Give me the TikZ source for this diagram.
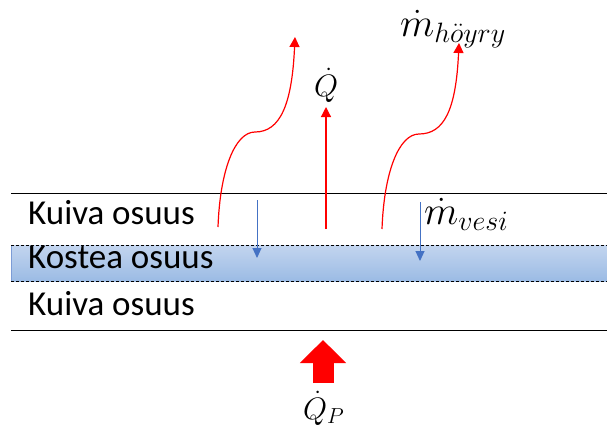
\RequirePackage{fix-cm}
\documentclass[tikz,border=0pt]{standalone}
\usepackage{fontspec}
\setsansfont{Carlito}
\usepackage{tikz}
\usetikzlibrary{positioning, arrows.meta}
\definecolor{heatRed}  {HTML}{FF0000}
\definecolor{waterBlue}{HTML}{4472C4}
\definecolor{bandTop}  {HTML}{C3D5EF}
\definecolor{bandBot}  {HTML}{9BBBE4}

\begin{document}
\begin{tikzpicture}[x=1pt, y=-1pt,
    layer/.style={font=\sffamily\fontsize{35}{40}\selectfont, anchor=base west, inner sep=0pt},
    sym/.style={font=\fontsize{40}{48}\selectfont, anchor=base west, inner sep=0pt},
    heatsym/.style={font=\fontsize{31}{36}\selectfont, anchor=base west, inner sep=0pt},
    flow/.style={draw=heatRed, line width=1.2pt, -{Triangle[length=10pt,width=10pt]}},
    drip/.style={draw=waterBlue, line width=1pt, -{Triangle[length=10pt,width=9pt]}},
  ]
  \useasboundingbox (0,0) rectangle (607,432);
  % kostea kerros
  \begin{scope}[y=1pt]
    \shade[top color=bandTop, bottom color=bandBot] (11,-245) rectangle (607,-281);
  \end{scope}
  \draw[waterBlue!70, line width=0.6pt] (11,245) -- (11,281);
  \draw[dash pattern=on 3pt off 2pt, line width=0.7pt] (11,245) -- (607,245) (11,281) -- (607,281);
  \draw[line width=1pt] (11,193) -- (607,193);
  \draw[line width=1pt] (11,330) -- (607,330);

  \node[layer] (dryTop) at (28,224) {Kuiva osuus};
  \node[layer] (wet)    at (28,268) {Kostea osuus};
  \node[layer] (dryBot) at (28,315) {Kuiva osuus};

  \node[heatsym] (qdot) at (314,96)  {$\dot{Q}$};
  \node[sym] (mvap)  at (400,36)  {$\dot{m}_{h\ddot{o}yry}$};
  \node[sym] (mvesi) at (424,224) {$\dot{m}_{vesi}$};
  \node[heatsym] (qp)  at (303,419) {$\dot{Q}_P$};

  \coordinate (vapL) at (218,227);
  \coordinate (vapLend) at (295,37);
  \coordinate (heat) at (326,229);
  \coordinate (vapR) at (382,229);
  \coordinate (vapRend) at (459,43);
  \coordinate (dripL) at (257,200);
  \coordinate (dripLend) at (257,258);
  \coordinate (dripR) at (420,202);
  \coordinate (dripRend) at (420,261);
  \coordinate (qpTail) at (323,383);
  \coordinate (qpTip) at (323,340);

  \draw[flow] (vapL) .. controls (220,170) and (235,132) .. (255,132)
              .. controls (280,132) and (292,105) .. (vapLend);
  \draw[flow] (heat) -- (326,107);
  \draw[flow] (vapR) .. controls (384,172) and (399,134) .. (419,134)
              .. controls (444,134) and (456,110) .. (vapRend);
  \draw[drip] (dripL) -- (dripLend);
  \draw[drip] (dripR) -- (dripRend);
  \draw[heatRed, line width=21pt, -{Triangle[length=23pt,width=45pt]}] (qpTail) -- (qpTip);
\end{tikzpicture}
\end{document}
